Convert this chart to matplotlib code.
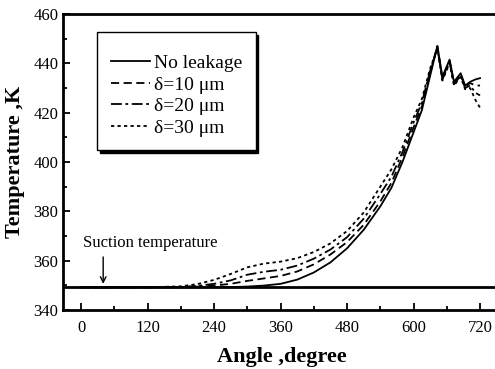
import matplotlib.pyplot as plt
from matplotlib.ticker import MultipleLocator

# values (angle in degree, temperature in K)
angle = [0, 60, 120, 180, 210, 240, 270, 300, 330, 360, 390, 420, 450, 480,
         510, 540, 560, 580, 600, 615, 630, 643, 652, 665, 673, 685, 693,
         702, 712, 720]

t_none = [349.2, 349.2, 349.2, 349.2, 349.2, 349.3, 349.3, 349.5, 349.9, 350.6,
          352.3, 355.2, 359.3, 365.0, 372.5, 382.0, 389.5, 400.0, 412.0, 421.0,
          435.0, 447.0, 434.5, 441.5, 432.5, 436.0, 431.0, 432.5, 433.5, 434.0]
t_d10 = [349.2, 349.2, 349.2, 349.3, 349.5, 349.9, 350.6, 351.8, 352.8, 353.8,
         355.6, 358.5, 362.5, 367.5, 374.5, 384.0, 391.5, 402.0, 414.0, 422.5,
         436.0, 447.0, 434.0, 441.0, 432.0, 435.5, 430.5, 432.0, 431.0, 431.0]
t_d20 = [349.2, 349.2, 349.2, 349.3, 349.8, 350.6, 352.0, 354.3, 355.5, 356.3,
         358.0, 360.8, 364.5, 369.5, 377.0, 387.0, 394.0, 404.0, 416.0, 424.0,
         437.0, 446.5, 433.5, 440.5, 431.5, 435.0, 430.0, 431.0, 428.0, 427.0]
t_d30 = [349.2, 349.2, 349.2, 349.6, 350.5, 352.2, 354.6, 357.3, 358.8, 359.6,
         361.0, 363.5, 367.0, 372.0, 379.5, 390.0, 397.0, 406.0, 418.0, 425.5,
         438.0, 446.0, 433.0, 440.0, 431.0, 434.5, 429.5, 430.0, 425.0, 422.0]

labels = ["No leakage", "δ=10 μm", "δ=20 μm", "δ=30 μm"]
SUCTION_T = 349.2
ARROW_ANGLE = 40

plt.rcParams["font.family"] = ["Liberation Serif", "DejaVu Serif"]

fig = plt.figure(figsize=(4.95, 3.69), dpi=100)
ax = fig.add_axes([63 / 495, 59 / 369, 437 / 495, 296 / 369])

styles = ["-", (0, (4.5, 2.5)), (0, (6, 2, 1.5, 2)), (0, (1.8, 1.8))]
for t, ls, lab in zip([t_none, t_d10, t_d20, t_d30], styles, labels):
    ax.plot(angle, t, color="black", lw=1.3, ls=ls, label=lab)

ax.axhline(SUCTION_T, color="black", lw=2.0)
ax.text(3, 364, "Suction temperature", ha="left", va="bottom", fontsize=12)
ax.annotate("", xy=(ARROW_ANGLE, 350.6), xytext=(ARROW_ANGLE, 361.5),
            arrowprops=dict(arrowstyle="->", color="black", lw=1.0,
                            shrinkA=0, shrinkB=0))

ax.set_xlim(-32.5, 756)
ax.set_ylim(340, 460)
ax.xaxis.set_major_locator(MultipleLocator(120))
ax.xaxis.set_minor_locator(MultipleLocator(60))
ax.yaxis.set_major_locator(MultipleLocator(20))
ax.yaxis.set_minor_locator(MultipleLocator(10))
ax.tick_params(which="both", direction="in", top=False, right=False,
               labelsize=12, width=1.3)
ax.tick_params(which="major", length=5)
ax.tick_params(which="minor", length=3)
ax.tick_params(axis="x", pad=7)
for side in ("left", "bottom", "top"):
    ax.spines[side].set_linewidth(2.0)
ax.spines["right"].set_visible(False)

ax.set_xlabel("Angle ,degree", fontsize=16, fontweight="bold", labelpad=8)
ax.set_ylabel("Temperature ,K", fontsize=16, fontweight="bold", labelpad=6)

# blank title gives the extra room above the first entry, as in the original
leg = ax.legend(loc="upper left", bbox_to_anchor=(0.0787, 0.939),
                fontsize=14, frameon=True, fancybox=False,
                shadow={"color": "black", "alpha": 1.0},
                title=" ", title_fontsize=4,
                handlelength=2.0, handletextpad=0.2, borderpad=0.7,
                labelspacing=0.2, borderaxespad=0)
leg.get_frame().set_edgecolor("black")
leg.get_frame().set_linewidth(1.0)

fig.savefig("out.png", dpi=100)
